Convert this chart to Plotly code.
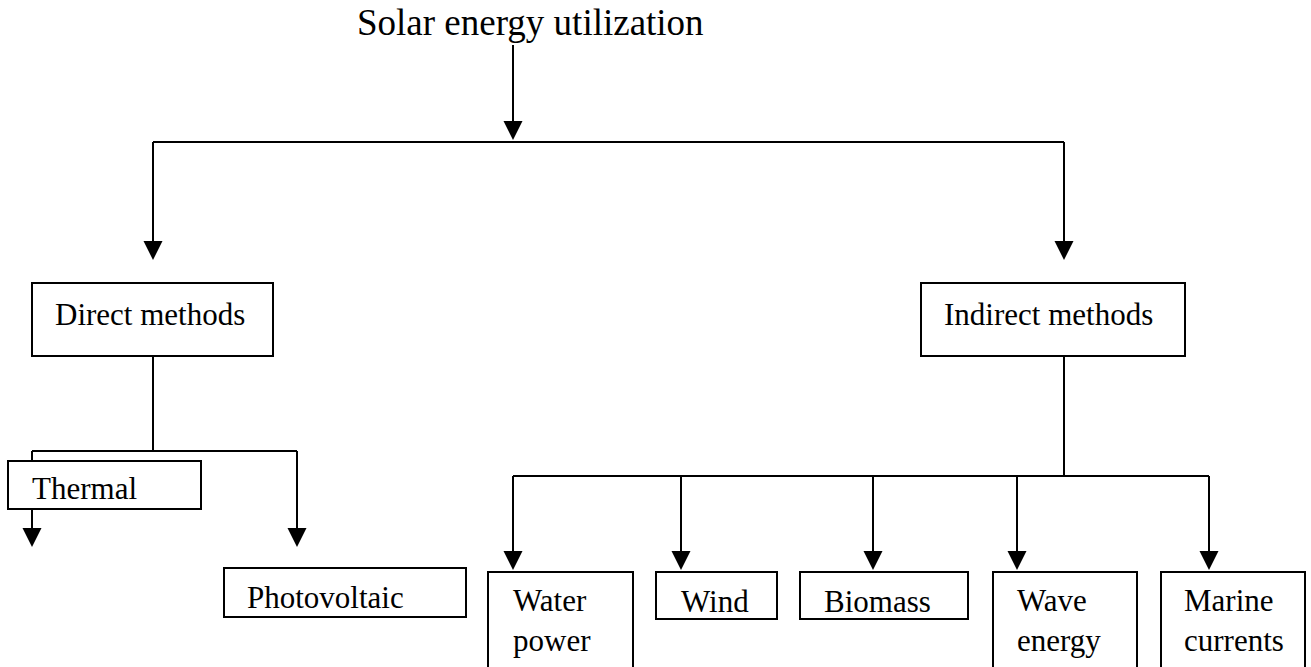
import plotly.graph_objects as go

# labels (data)
title_text = "Solar energy utilization"
level1_labels = ["Direct methods", "Indirect methods"]
direct_labels = ["Thermal", "Photovoltaic"]
indirect_labels = ["Water<br>power", "Wind", "Biomass", "Wave<br>energy", "Marine<br>currents"]

# geometry in pixel space (x0, x1, y0, y1, text_left, text_mid)
W, H = 1311, 667
LINE = dict(color="black", width=2)
FONT = "Liberation Serif, Times New Roman, serif"

boxes_l1 = [(32, 273, 283, 356, 53, 314), (921, 1185, 283, 356, 942, 314)]
boxes_direct = [(8, 201, 461, 509, 30, 488), (224, 466, 568, 617, 245, 597)]
boxes_indirect = [
    (488, 633, 572, 690, 511, 620),
    (656, 777, 572, 619, 679, 601),
    (800, 968, 572, 619, 822, 601),
    (993, 1137, 572, 690, 1015, 620),
    (1161, 1305, 572, 690, 1182, 620),
]

fig = go.Figure()
shapes = []
annots = []


def seg(x0, y0, x1, y1):
    shapes.append(dict(type="line", x0=x0, y0=y0, x1=x1, y1=y1, xref="x", yref="y", line=LINE))


def arrow(x, y0, y1):
    # shaft as a shape, head as an annotation
    seg(x, y0, x, y1 - 6)
    annots.append(dict(x=x, y=y1, ax=x, ay=y1 - 20, xref="x", yref="y", axref="x", ayref="y",
                       showarrow=True, arrowhead=2, arrowsize=1.9, arrowwidth=2,
                       arrowcolor="black", text="", standoff=0))


def box(b, label):
    x0, x1, y0, y1, tx, ty = b
    shapes.append(dict(type="rect", x0=x0, x1=x1, y0=y0, y1=y1, xref="x", yref="y",
                       line=LINE, fillcolor="white"))
    annots.append(dict(x=tx, y=ty, xref="x", yref="y", text=label, showarrow=False,
                       xanchor="left", yanchor="middle", align="left",
                       font=dict(family=FONT, size=31, color="black")))


# top
annots.append(dict(x=355, y=22, xref="x", yref="y", text=title_text, showarrow=False,
                   xanchor="left", yanchor="middle",
                   font=dict(family=FONT, size=37, color="black")))
arrow(513, 45, 140)
seg(153, 142, 1064, 142)
arrow(153, 142, 260)
arrow(1064, 142, 260)

# direct branch
seg(153, 356, 153, 451)
seg(32, 451, 297, 451)
arrow(32, 451, 547)
arrow(297, 451, 547)

# indirect branch
seg(1064, 356, 1064, 476)
seg(513, 476, 1209, 476)
for x in [513, 681, 873, 1017, 1209]:
    arrow(x, 476, 570)

for b, lab in zip(boxes_l1, level1_labels):
    box(b, lab)
for b, lab in zip(boxes_direct, direct_labels):
    box(b, lab)
for b, lab in zip(boxes_indirect, indirect_labels):
    box(b, lab)

fig.update_layout(
    width=W, height=H,
    margin=dict(l=0, r=0, t=0, b=0),
    paper_bgcolor="white", plot_bgcolor="white",
    xaxis=dict(range=[0, W], visible=False, fixedrange=True),
    yaxis=dict(range=[H, 0], visible=False, fixedrange=True),
    shapes=shapes, annotations=annots, showlegend=False,
)
fig.write_html("out.html", config={"displayModeBar": False},
               post_script="document.body.style.margin='0';document.body.style.overflow='hidden';")
